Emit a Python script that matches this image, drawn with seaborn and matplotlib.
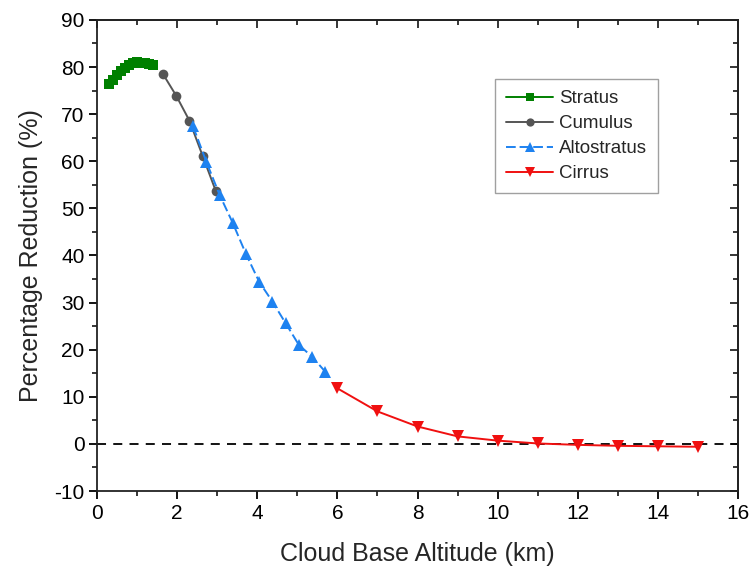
import numpy as np
import pandas as pd
import matplotlib
matplotlib.use("Agg")
import matplotlib.pyplot as plt
import seaborn as sns
from matplotlib.ticker import MultipleLocator

stratus_x = [0.3, 0.4, 0.5, 0.6, 0.7, 0.8, 0.9, 1.0, 1.1, 1.2, 1.3, 1.4]
stratus_y = [76.3, 77.2, 78.3, 79.2, 79.8, 80.4, 80.8, 81.0, 80.9, 80.8, 80.7, 80.5]

cumulus_x = [1.65, 1.98, 2.31, 2.64, 2.97]
cumulus_y = [78.5, 73.9, 68.6, 61.1, 53.6]

alto_x = [2.40, 2.73, 3.06, 3.39, 3.72, 4.05, 4.38, 4.71, 5.04, 5.37, 5.70]
alto_y = [67.4, 59.9, 52.9, 46.9, 40.3, 34.4, 30.2, 25.6, 21.0, 18.5, 15.3]

cirrus_x = [6, 7, 8, 9, 10, 11, 12, 13, 14, 15]
cirrus_y = [11.8, 6.9, 3.7, 1.6, 0.7, 0.1, -0.2, -0.4, -0.5, -0.6]

names = ["Stratus", "Cumulus", "Altostratus", "Cirrus"]

sns.set_style("ticks")
plt.rcParams['font.family'] = ['Liberation Sans', 'DejaVu Sans']
plt.rcParams['axes.unicode_minus'] = False

fig = plt.figure(figsize=(7.51, 5.69), dpi=100)
ax = fig.add_axes([0.129, 0.137, 0.854, 0.828])

colors = {"Stratus": "#008000", "Cumulus": "#555555",
          "Altostratus": "#1E82F0", "Cirrus": "#F01010"}
markers = {"Stratus": "s", "Cumulus": "o", "Altostratus": "^", "Cirrus": "v"}
msizes = {"Stratus": 6.5, "Cumulus": 7, "Altostratus": 8, "Cirrus": 8}
lstyles = {"Stratus": "-", "Cumulus": "-", "Altostratus": (0, (5, 2)), "Cirrus": "-"}

ax.axhline(0, color="black", ls=(0, (5, 4)), lw=1.3, zorder=1)

for name, xs, ys in zip(names, [stratus_x, cumulus_x, alto_x, cirrus_x],
                        [stratus_y, cumulus_y, alto_y, cirrus_y]):
    d = pd.DataFrame({"x": xs, "y": ys})
    sns.lineplot(data=d, x="x", y="y", ax=ax, sort=False, estimator=None,
                 color=colors[name], marker=markers[name], markersize=msizes[name],
                 markeredgewidth=0, linestyle=lstyles[name], lw=1.4, label=name)

ax.set_xlim(0, 16)
ax.set_ylim(-10, 90)
ax.xaxis.set_major_locator(MultipleLocator(2))
ax.xaxis.set_minor_locator(MultipleLocator(1))
ax.yaxis.set_major_locator(MultipleLocator(10))
ax.yaxis.set_minor_locator(MultipleLocator(5))

ax.tick_params(which="major", direction="out", length=6, width=1.3, labelsize=15,
               colors="black", pad=3)
ax.tick_params(which="minor", direction="out", length=3.5, width=1.3)
for s in ax.spines.values():
    s.set_linewidth(1.3)
    s.set_color("#222222")

secx = ax.secondary_xaxis("top")
secx.xaxis.set_major_locator(MultipleLocator(2))
secx.xaxis.set_minor_locator(MultipleLocator(1))
secx.tick_params(which="major", direction="in", length=6, width=1.3, labeltop=False)
secx.tick_params(which="minor", direction="in", length=3.5, width=1.3)
secy = ax.secondary_yaxis("right")
secy.yaxis.set_major_locator(MultipleLocator(10))
secy.yaxis.set_minor_locator(MultipleLocator(5))
secy.tick_params(which="major", direction="in", length=6, width=1.3, labelright=False)
secy.tick_params(which="minor", direction="in", length=3.5, width=1.3)
for sa in (secx, secy):
    for s in sa.spines.values():
        s.set_linewidth(1.3)

ax.set_xlabel("Cloud Base Altitude (km)", fontsize=18, labelpad=14)
ax.set_ylabel("Percentage Reduction (%)", fontsize=18, labelpad=8)

leg = ax.legend(loc="upper left", bbox_to_anchor=(0.621, 0.875), fontsize=13.5,
                frameon=True, fancybox=False, edgecolor="#888888",
                handlelength=2.5, handletextpad=0.3, borderpad=0.6,
                borderaxespad=0, labelspacing=0.42, markerscale=0.85)
leg.get_frame().set_linewidth(1.0)

fig.savefig("out.png", dpi=100)
